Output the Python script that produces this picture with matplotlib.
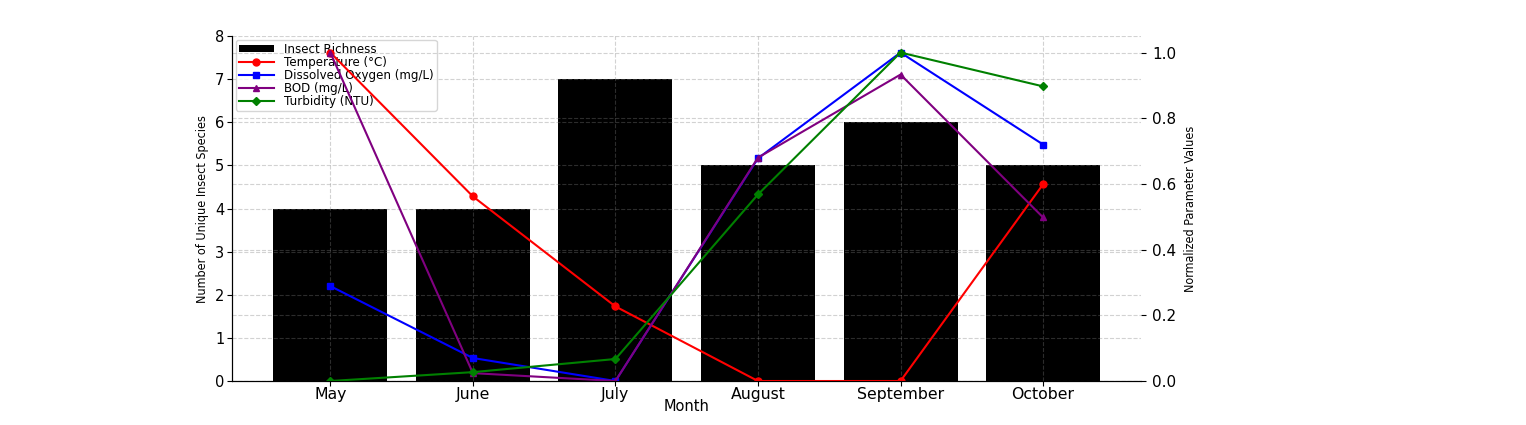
import matplotlib.pyplot as plt
import numpy as np

months = ['May', 'June', 'July', 'August', 'September', 'October']
richness = [4, 4, 7, 5, 6, 5]

# normalized water quality parameters (0-1)
temperature = [1.0, 0.562, 0.227, 0.0, 0.0, 0.599]
dissolved_oxygen = [0.289, 0.07, 0.0, 0.678, 1.0, 0.72]
bod = [1.0, 0.024, 0.0, 0.68, 0.933, 0.498]
turbidity = [0.0, 0.027, 0.067, 0.568, 1.0, 0.897]

fig, ax1 = plt.subplots(figsize=(15.26, 4.25), dpi=100)
fig.subplots_adjust(left=0.152, right=0.748, top=0.915, bottom=0.1035)

x = np.arange(len(months))
ax1.bar(x, richness, width=0.8, color='black', label='Insect Richness')
ax1.set_xlim(-0.69, 5.69)
ax1.set_ylim(0, 8)
ax1.set_xticks(x)
ax1.set_xticklabels(months)
ax1.set_xlabel('Month', fontsize=10.5, labelpad=-1.5)
ax1.set_ylabel('Number of Unique Insect Species', fontsize=9, fontstretch='condensed')
ax1.tick_params(axis='x', labelsize=11.3, pad=0.5)
ax1.tick_params(axis='y', labelsize=10.5, pad=2)
ax1.grid(True, linestyle='--', color='gray', alpha=0.35)

ax2 = ax1.twinx()
ax2.plot(x, temperature, color='red', marker='o', markersize=5, label='Temperature (°C)')
ax2.plot(x, dissolved_oxygen, color='blue', marker='s', markersize=5, label='Dissolved Oxygen (mg/L)')
ax2.plot(x, bod, color='purple', marker='^', markersize=5, label='BOD (mg/L)')
ax2.plot(x, turbidity, color='green', marker='D', markersize=4, label='Turbidity (NTU)')
ax2.set_ylim(0, 1.05)
ax2.set_ylabel('Normalized Parameter Values', fontsize=9, fontstretch='condensed', labelpad=6)
ax2.tick_params(labelsize=11, pad=4)
ax2.grid(True, linestyle='--', color='gray', alpha=0.35)

for ax in (ax1, ax2):
    ax.spines['top'].set_visible(False)
    ax.spines['right'].set_visible(False)

h1, l1 = ax1.get_legend_handles_labels()
h2, l2 = ax2.get_legend_handles_labels()
ax1.legend(h1 + h2, l1 + l2, loc='upper left', fontsize=8.6, labelspacing=0.0,
           borderpad=0.25, handlelength=3, borderaxespad=0.3, handleheight=0.6)

fig.savefig('out.png', dpi=100)
